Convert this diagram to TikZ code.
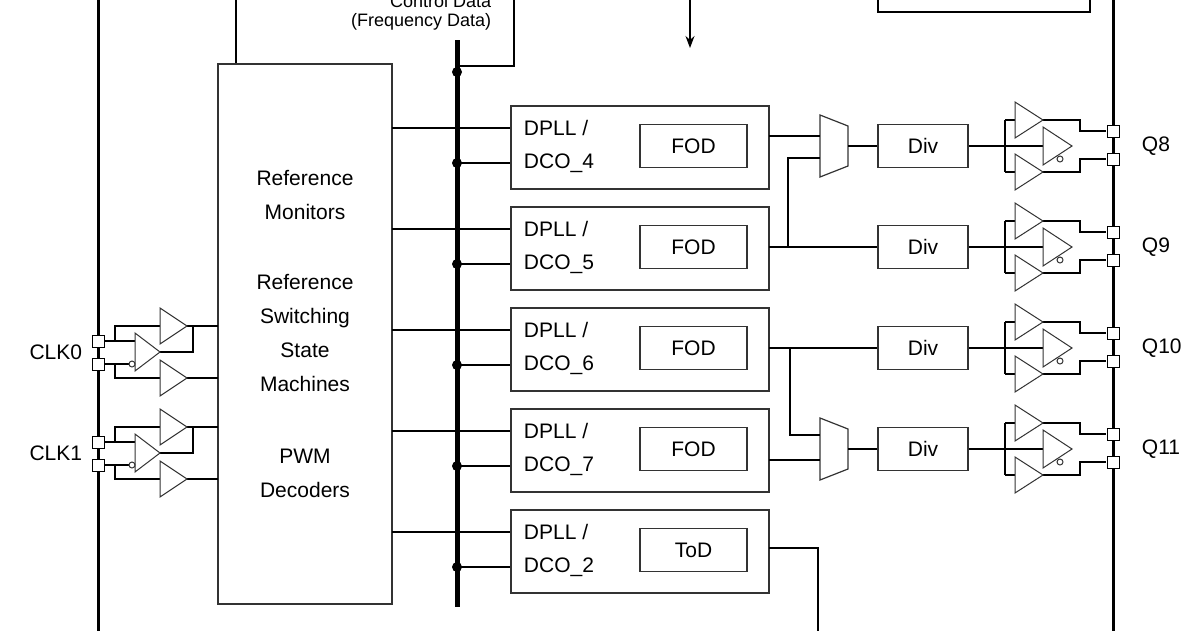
\documentclass[tikz,border=0pt]{standalone}
\usepackage{fontspec}
\setmainfont{Liberation Sans}
\usetikzlibrary{arrows.meta}
\definecolor{wire}{gray}{0.2}

\begin{document}
\begin{tikzpicture}[x=1pt, y=-1pt, line width=1.2,
    blk/.style={draw=wire, fill=white, line width=1.5, inner sep=0pt},
    pin/.style={draw=black, fill=white, line width=1, minimum size=12, inner sep=0pt},
    amp/.style={draw=wire, fill=white, line width=1},
    lbl/.style={font=\fontsize{21}{34}\selectfont, align=center}]
  \useasboundingbox (0, 0) rectangle (1200, 630);
  \clip (0, 0) rectangle (1200, 630);

  % chip border
  \draw[line width=3] (98, -5) -- (98, 635);
  \draw[line width=3] (1113, -5) -- (1113, 635);

  % top blocks
  \draw[line width=1.5] (236, -5) -- (236, 64);
  \draw[line width=1.5] (514, -5) -- (514, 66) -- (457, 66);
  \node[lbl, font=\fontsize{18}{22}\selectfont, anchor=east] (ctl) at (495, 1) {Control Data};
  \node[lbl, font=\fontsize{18}{22}\selectfont, anchor=east] (frq) at (495, 22) {(Frequency Data)};
  \coordinate (ain) at (690, -5);
  \coordinate (aout) at (690, 48);
  \draw[-{Stealth[length=12, width=9]}] (ain) -- (aout);
  \draw[line width=1.5] (878, -5) -- (878, 12) -- (1090, 12) -- (1090, -5);

  % control block
  \node[blk, minimum width=174, minimum height=540] (ctrl) at (305, 334) {};
  \node[lbl] (mon) at (305, 195) {Reference\\Monitors};
  \node[lbl] (sw) at (305, 333) {Reference\\Switching\\State\\Machines};
  \node[lbl] (pwm) at (305, 473) {PWM\\Decoders};

  % bus
  \coordinate (btop) at (457, 40);
  \coordinate (bbot) at (457, 607);
  \draw[line width=5] (btop) -- (bbot);
  \fill (457, 72) circle (5);

  % DPLL / DCO channels
  \foreach \t/\n/\f in {105/4/FOD, 206/5/FOD, 307/6/FOD, 408/7/FOD, 509/2/ToD} {
    \node[blk, minimum width=258, minimum height=83, anchor=north west] (dco\n) at (510, \t) {};
    \node[lbl, anchor=west] (dl\n) at (520, \t + 23) {DPLL /};
    \node[lbl, anchor=west] (dn\n) at (520, \t + 58) {DCO\_\n};
    \node[blk, minimum width=107, minimum height=43, lbl] (fod\n) at (693.5, \t + 41) {\f};
    \draw (392, \t + 23) -- (510, \t + 23);
    \draw (457, \t + 58) -- (510, \t + 58);
    \fill (457, \t + 58) circle (5);
  }

  % muxes and dividers
  \foreach \y/\n in {146/8, 247/9, 348/10, 449/11}
    \node[blk, minimum width=90, minimum height=43, lbl] (div\n) at (923, \y) {Div};
  \foreach \y/\m in {146/a, 449/b}
    \draw[amp, line width=1.2] (820, \y - 31) -- (848, \y - 20) -- (848, \y + 20) -- (820, \y + 31) -- cycle
      coordinate (mux\m) at (848, \y);
  \draw (769, 136) -- (820, 136);
  \draw (769, 247) -- (div9.west);
  \draw (788, 247) -- (788, 158) -- (820, 158);
  \draw (769, 348) -- (div10.west);
  \draw (790, 348) -- (790, 435) -- (820, 435);
  \draw (769, 460) -- (820, 460);
  \draw (muxa) -- (div8.west);
  \draw (muxb) -- (div11.west);
  \draw (769, 548) -- (818, 548) -- (818, 635);

  % output buffers
  \foreach \y/\n in {146/8, 247/9, 348/10, 449/11} {
    \draw (div\n.east) -- (1043, \y);
    \draw (1005, \y - 26) -- (1005, \y + 26);
    \draw (1005, \y - 26) -- (1015, \y - 26);
    \draw (1005, \y + 26) -- (1015, \y + 26);
    \draw (1030, \y - 26) -- (1080, \y - 26) -- (1080, \y - 15) -- (1106, \y - 15);
    \draw (1030, \y + 26) -- (1080, \y + 26) -- (1080, \y + 13) -- (1106, \y + 13);
    \draw[amp] (1015, \y - 44) -- (1043, \y - 26) -- (1015, \y - 8) -- cycle;
    \draw[amp] (1015, \y + 8) -- (1043, \y + 26) -- (1015, \y + 44) -- cycle;
    \draw[amp] (1043, \y - 19) -- (1072, \y) -- (1043, \y + 19) -- cycle;
    \draw[amp] (1060, \y + 13) circle (3);
    \node[pin] (qp\n) at (1113, \y - 15) {};
    \node[pin] (qn\n) at (1113, \y + 13) {};
    \node[lbl, anchor=west] (q\n) at (1138, \y) {Q\n};
  }

  % input buffers
  \foreach \y/\n in {352/0, 453/1} {
    \node[pin] (cp\n) at (98, \y - 11) {};
    \node[pin] (cn\n) at (98, \y + 12) {};
    \node[lbl, anchor=east] (clk\n) at (86, \y) {CLK\n};
    \draw (cp\n.east) -- (135, \y - 11);
    \draw (cn\n.east) -- (135, \y + 12);
    \draw (115, \y - 11) -- (115, \y - 26) -- (160, \y - 26);
    \draw (115, \y + 12) -- (115, \y + 26) -- (160, \y + 26);
    \draw (187, \y - 26) -- (218, \y - 26);
    \draw (187, \y + 26) -- (218, \y + 26);
    \draw (160, \y) -- (193, \y) -- (193, \y - 26);
    \draw[amp] (160, \y - 44) -- (187, \y - 26) -- (160, \y - 8) -- cycle;
    \draw[amp] (160, \y + 8) -- (187, \y + 26) -- (160, \y + 44) -- cycle;
    \draw[amp] (135, \y - 19) -- (160, \y) -- (135, \y + 19) -- cycle;
    \draw[amp] (132, \y + 12) circle (3);
  }
\end{tikzpicture}
\end{document}
